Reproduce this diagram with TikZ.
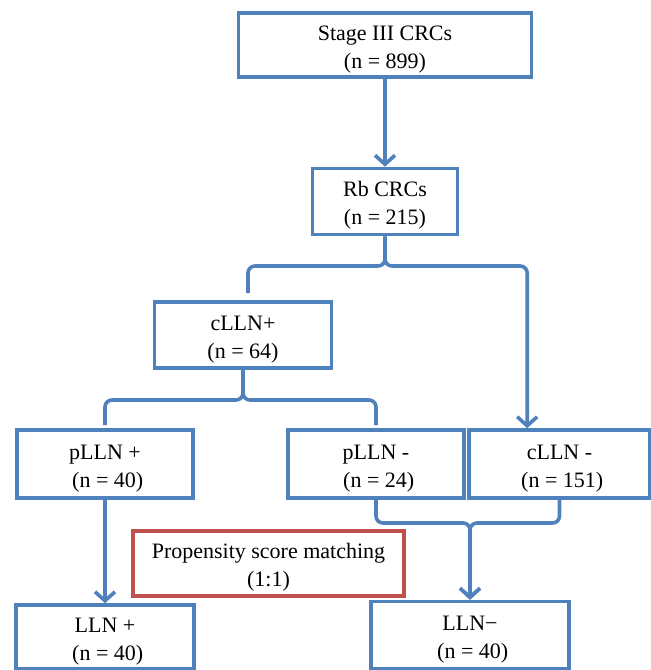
\documentclass[tikz,border=0pt]{standalone}
\usepackage{fontspec}
\setmainfont{Liberation Serif}
\usetikzlibrary{arrows.meta, positioning}

\definecolor{boxblue}{RGB}{79,129,189}
\definecolor{boxred}{RGB}{192,80,77}

\begin{document}
\begin{tikzpicture}[x=1pt, y=-1pt,
    box/.style={draw=boxblue, line width=3.6pt, fill=white, align=center,
        inner sep=0pt, font=\fontsize{22}{28}\selectfont,
        execute at begin node={\rule{0pt}{51pt}}},
    redbox/.style={box, draw=boxred},
    link/.style={draw=boxblue, line width=3.6pt, rounded corners=7pt},
    flow/.style={link, -{Straight Barb[length=9pt,width=20pt]}}]
    % Fixed canvas
    \path[use as bounding box] (0,0) rectangle (651,670);

    % Create boxes
    \node[box, minimum width=293pt, minimum height=64pt] (stage) at (385,45) {Stage III CRCs\\(n = 899)};
    \node[box, minimum width=145pt, minimum height=66pt] (rb) at (385,201.5) {Rb CRCs\\(n = 215)};
    \node[box, minimum width=177pt, minimum height=66pt] (clp) at (243,335) {cLLN+\\(n = 64)};
    \node[box, minimum width=176pt, minimum height=68pt] (pp) at (105,464) {pLLN +\\\ (n = 40)};
    \node[box, minimum width=176pt, minimum height=68pt] (pm) at (376,464) {pLLN -\\\ (n = 24)};
    \node[box, minimum width=181pt, minimum height=68pt] (cm) at (559.5,464) {cLLN -\\\ (n = 151)};
    \node[redbox, minimum width=271pt, minimum height=65pt] (psm) at (268.5,563.5) {Propensity score matching\\(1:1)};
    \node[box, minimum width=178pt, minimum height=64pt] (lp) at (105,637) {LLN +\\\ (n = 40)};
    \node[box, minimum width=198pt, minimum height=67pt] (lm) at (470,635) {LLN−\\\ (n = 40)};

    % Branch points and open ends
    \coordinate (bar1) at (385,266);
    \coordinate (bar2) at (243,400);
    \coordinate (bar3) at (470,523);
    \coordinate (clpend) at (248,293);
    \coordinate (ppend) at (105,425);
    \coordinate (pmend) at (376,425);

    % Connections
    \draw[flow] (stage) -- (rb);
    \draw[link] (rb.south) -- (bar1) -| (clpend);
    \draw[flow] (rb.south) -- (bar1) -| ([xshift=60pt]cm.north west);
    \draw[link] (clp.south) -- (bar2) -| (ppend);
    \draw[link] (clp.south) -- (bar2) -| (pmend);
    \draw[flow] (pp) -- (lp);
    \draw[flow] (pm.south) |- (bar3) -- (lm.north);
    \draw[flow] (cm.south) |- (bar3) -- (lm.north);
\end{tikzpicture}
\end{document}
